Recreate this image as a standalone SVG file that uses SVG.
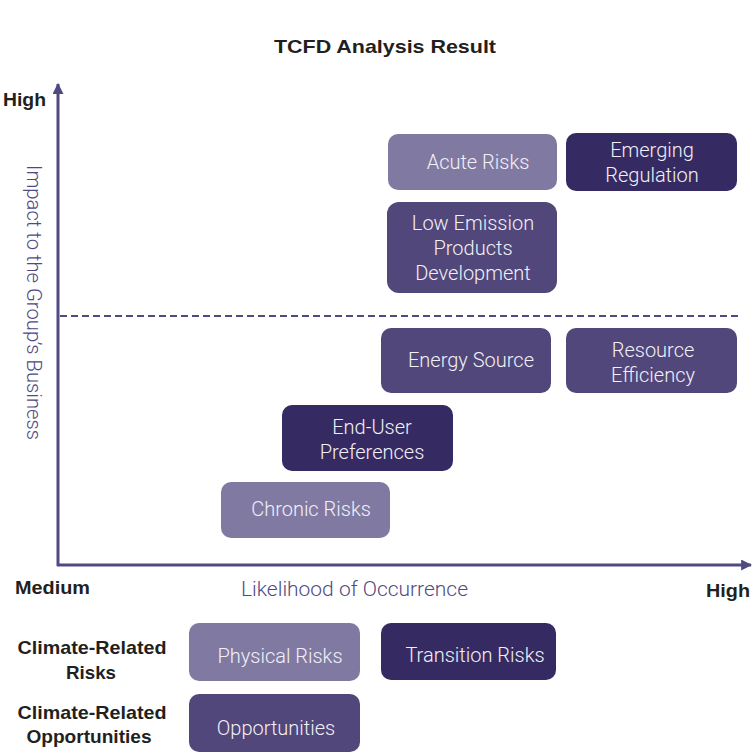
<svg xmlns="http://www.w3.org/2000/svg" width="752" height="752" viewBox="0 0 752 752">
<style>
.light{fill:#807aa3}
.mid{fill:#51477a}
.dark{fill:#352b62}
.bt{font-family:Roboto,"Liberation Sans",Arial,sans-serif;font-weight:300;font-size:20px;fill:#f2f0f7;text-anchor:middle}
.lab{font-family:"Liberation Sans",Arial,sans-serif;font-weight:bold;font-size:19px;fill:#231f20}
.ax{font-family:Roboto,"Liberation Sans",Arial,sans-serif;font-weight:300;font-size:20px;fill:#4f4a82}
</style>
<defs>
<marker id="arr" viewBox="0 0 10 10" refX="9" refY="5" markerWidth="11" markerHeight="11" markerUnits="userSpaceOnUse" orient="auto">
<path d="M0,0 L10,5 L0,10 z" fill="#4f4a82"/>
</marker>
</defs>
<rect width="752" height="752" fill="#ffffff"/>
<text x="385" y="53" class="lab" text-anchor="middle" textLength="222" lengthAdjust="spacingAndGlyphs">TCFD Analysis Result</text>
<g id="connectors">
<line x1="58" y1="566" x2="58" y2="84" stroke="#4f4a82" stroke-width="3" marker-end="url(#arr)"/>
<line x1="57" y1="565" x2="751" y2="565" stroke="#4f4a82" stroke-width="3" marker-end="url(#arr)"/>
<line x1="60" y1="316" x2="742" y2="316" stroke="#4f4a82" stroke-width="2" stroke-dasharray="7,4"/>
</g>
<text x="3" y="106" class="lab" textLength="43" lengthAdjust="spacingAndGlyphs">High</text>
<text x="15" y="594" class="lab" textLength="75" lengthAdjust="spacingAndGlyphs">Medium</text>
<text x="706" y="597" class="lab" textLength="44" lengthAdjust="spacingAndGlyphs">High</text>
<text x="241" y="596" class="ax" textLength="227" lengthAdjust="spacingAndGlyphs">Likelihood of Occurrence</text>
<text x="165" y="0" class="ax" textLength="275" lengthAdjust="spacingAndGlyphs" transform="translate(27,0) rotate(90)">Impact to the Group’s Business</text>
<g id="acute"><rect x="388" y="134" width="169" height="56" rx="10" class="light"/><text x="478" y="169" class="bt">Acute Risks</text></g>
<g id="emerging"><rect x="566" y="133" width="171" height="58" rx="10" class="dark"/><text x="652" y="157" class="bt">Emerging</text><text x="652" y="182" class="bt">Regulation</text></g>
<g id="lowemission"><rect x="387" y="202" width="170" height="91" rx="12" class="mid"/><text x="473" y="230" class="bt">Low Emission</text><text x="473" y="255" class="bt">Products</text><text x="473" y="280" class="bt">Development</text></g>
<g id="energy"><rect x="381" y="328" width="170" height="65" rx="10" class="mid"/><text x="471" y="367" class="bt">Energy Source</text></g>
<g id="resource"><rect x="566" y="328" width="171" height="65" rx="10" class="mid"/><text x="653" y="357" class="bt">Resource</text><text x="653" y="382" class="bt">Efficiency</text></g>
<g id="enduser"><rect x="282" y="405" width="171" height="66" rx="10" class="dark"/><text x="372" y="434" class="bt">End-User</text><text x="372" y="459" class="bt">Preferences</text></g>
<g id="chronic"><rect x="221" y="482" width="169" height="56" rx="10" class="light"/><text x="311" y="516" class="bt">Chronic Risks</text></g>
<text x="92" y="654" class="lab" text-anchor="middle" textLength="149" lengthAdjust="spacingAndGlyphs">Climate-Related</text>
<text x="91" y="679" class="lab" text-anchor="middle" textLength="50" lengthAdjust="spacingAndGlyphs">Risks</text>
<text x="92" y="719" class="lab" text-anchor="middle" textLength="149" lengthAdjust="spacingAndGlyphs">Climate-Related</text>
<text x="89" y="743" class="lab" text-anchor="middle" textLength="125" lengthAdjust="spacingAndGlyphs">Opportunities</text>
<g id="physical"><rect x="189" y="623" width="171" height="58" rx="10" class="light"/><text x="280" y="663" class="bt">Physical Risks</text></g>
<g id="transition"><rect x="381" y="623" width="175" height="57" rx="10" class="dark"/><text x="475" y="662" class="bt">Transition Risks</text></g>
<g id="opportunities"><rect x="189" y="694" width="171" height="58" rx="10" class="mid"/><text x="276" y="735" class="bt">Opportunities</text></g>
</svg>
